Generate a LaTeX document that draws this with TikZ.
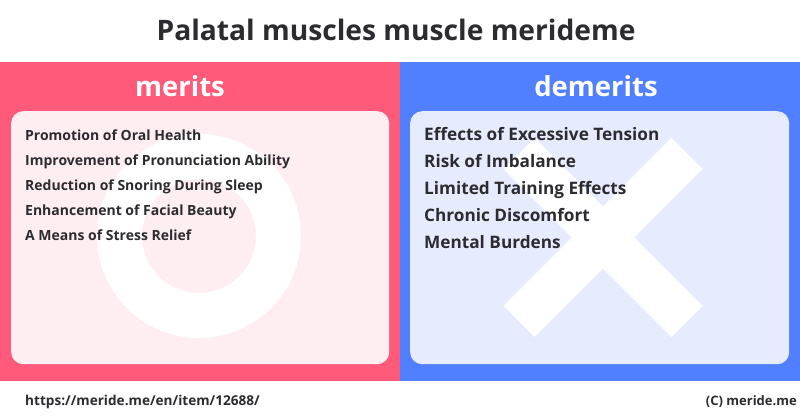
\documentclass[tikz,border=0pt]{standalone}
\usepackage{fontspec}
\setmainfont{Open Sans}
\definecolor{pinkbg}{HTML}{FF5A7A}
\definecolor{bluebg}{HTML}{5080FF}
\definecolor{pinkbox}{HTML}{FFEEF1}
\definecolor{bluebox}{HTML}{E6ECFE}
\definecolor{ink}{HTML}{2C2C30}
\tikzset{
 panel/.style={draw=none,minimum height=319pt,minimum width=400pt,inner sep=0pt,anchor=north west},
 innerbox/.style={draw=none,rounded corners=12pt,minimum height=253pt,minimum width=378pt,inner sep=0pt,anchor=north west},
 head/.style={text=white,font=\bfseries\fontsize{27.5}{28}\selectfont,inner sep=0pt,anchor=base},
 leftitem/.style={text=ink,font=\bfseries\fontsize{14}{15}\selectfont,anchor=base west,inner sep=0pt},
 rightitem/.style={text=ink,font=\bfseries\fontsize{17.2}{18}\selectfont,anchor=base west,inner sep=0pt},
 foot/.style={text=ink,font=\bfseries\fontsize{13}{14}\selectfont,inner sep=0pt},
}
\begin{document}
\begin{tikzpicture}[x=1pt,y=-1pt]
\useasboundingbox (0,0) rectangle (800,418);
\fill[white] (0,0) rectangle (800,418);
\node[text=ink,font=\bfseries\fontsize{28.2}{29}\selectfont,inner sep=0pt,anchor=base] (title) at (396,40) {Palatal muscles muscle merideme};
\node[panel,fill=pinkbg] (pl) at (0,62) {};
\node[panel,fill=bluebg] (pr) at (400,62) {};
\node[head] (hl) at (180,96) {merits};
\node[head] (hr) at (596,96) {demerits};
\node[innerbox,fill=pinkbox] (bl) at (11,111) {};
\node[innerbox,fill=bluebox,minimum width=379pt] (br) at (410,111) {};
\draw[white,line width=45pt] (199,236) circle (79.5);
\draw[white,line width=44pt] (519,321.5) -- (687,153.5);
\draw[white,line width=44pt] (519,153.5) -- (687,321.5);
\node[leftitem] (l1) at (25,140) {Promotion of Oral Health};
\node[leftitem] (l2) at (25,165) {Improvement of Pronunciation Ability};
\node[leftitem] (l3) at (25,190) {Reduction of Snoring During Sleep};
\node[leftitem] (l4) at (25,215) {Enhancement of Facial Beauty};
\node[leftitem] (l5) at (25,240) {A Means of Stress Relief};
\node[rightitem] (r1) at (424,140) {Effects of Excessive Tension};
\node[rightitem] (r2) at (424,167) {Risk of Imbalance};
\node[rightitem] (r3) at (424,194) {Limited Training Effects};
\node[rightitem] (r4) at (424,221) {Chronic Discomfort};
\node[rightitem] (r5) at (424,248) {Mental Burdens};
\node[foot,anchor=base west,font=\bfseries\fontsize{13.6}{14}\selectfont] (url) at (25,405) {https://meride.me/en/item/12688/};
\node[foot,anchor=base east] (copy) at (797,405) {(C) meride.me};
\end{tikzpicture}
\end{document}
